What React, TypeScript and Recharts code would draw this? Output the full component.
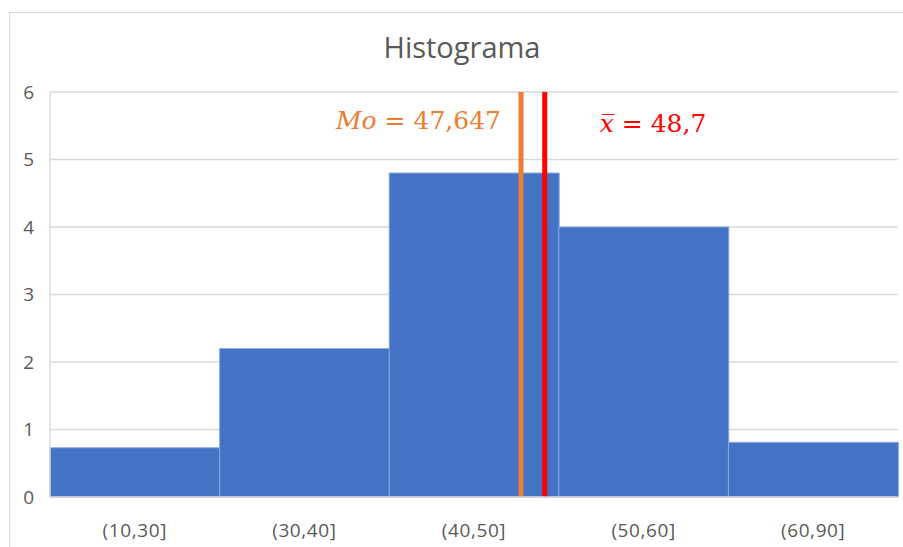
import React from "react";
import {
  ComposedChart,
  Bar,
  XAxis,
  YAxis,
  CartesianGrid,
  ReferenceLine,
} from "recharts";

// ── Data ───────────────────────────────────────────────────────────────────
const bins = ["(10,30]", "(30,40]", "(40,50]", "(50,60]", "(60,90]"];
const heights = [0.73, 2.2, 4.8, 4.0, 0.81];
const yTicks = [0, 1, 2, 3, 4, 5, 6];

// where the lines were drawn, in bin units (0 = left edge, 5 = right edge)
const moPos = 2.777;
const meanPos = 2.917;
const moLabel = "47,647";
const meanLabel = "48,7";

const chartData = bins.map((b, i) => ({ bin: b, h: heights[i], mid: i + 0.5 }));

const GRAY = "#595959";
const GRID = "#d9d9d9";
const MATH = "'DejaVu Serif', 'Liberation Serif', serif";
const SANS = "'Open Sans', sans-serif";

// ── Label renderers ────────────────────────────────────────────────────────
const MoLabel = (props: any) => {
  const { viewBox } = props;
  return (
    <text x={viewBox.x - 20} y={viewBox.y + 37} textAnchor="end" fill="#ED7D31"
      fontFamily={MATH} fontSize={25}>
      <tspan fontStyle="italic">Mo</tspan>
      <tspan> = {moLabel}</tspan>
    </text>
  );
};

const MeanLabel = (props: any) => {
  const { viewBox } = props;
  return (
    <text x={viewBox.x + 55} y={viewBox.y + 40} textAnchor="start" fill="#FF0000"
      fontFamily={MATH} fontSize={25}>
      <tspan fontStyle="italic">x̅</tspan>
      <tspan> = {meanLabel}</tspan>
    </text>
  );
};

export default function App() {
  return (
    <div style={{ position: "relative", width: 903, height: 547, overflow: "hidden", background: "#fff" }}>
      <style>{`body{margin:0}`}</style>
      <div style={{ position: "absolute", left: 9, top: 12, width: 2000, height: 2000, border: `1px solid ${GRID}` }} />
      <div style={{ position: "absolute", left: 0, top: 0 }}>
        <ComposedChart width={903} height={547} data={chartData}
          margin={{ top: 92, right: 5, bottom: 0, left: 10 }} barCategoryGap={0}>
          <text x={462} y={58} textAnchor="middle" fill={GRAY}
            fontFamily={SANS} fontSize={29}>Histograma</text>
          <CartesianGrid vertical={false} stroke={GRID} strokeWidth={1.3} />
          <XAxis dataKey="bin" height={50} tickLine={false} axisLine={{ stroke: GRID, strokeWidth: 1.3 }}
            tick={{ fill: GRAY, fontSize: 19, fontFamily: SANS, letterSpacing: 0.6 }} tickMargin={21} />
          <XAxis xAxisId="pos" dataKey="mid" type="number" domain={[0, 5]} allowDataOverflow hide />
          <YAxis width={40} domain={[0, 6]} ticks={yTicks} tickLine={false}
            axisLine={{ stroke: GRID, strokeWidth: 1.3 }} tickMargin={10}
            tick={{ fill: GRAY, fontSize: 19, fontFamily: SANS }} />
          <Bar dataKey="h" fill="#4472C4" stroke="#8faadc" strokeWidth={1} isAnimationActive={false} />
          <ReferenceLine xAxisId="pos" x={moPos} stroke="#ED7D31" strokeWidth={5}
            label={<MoLabel />} />
          <ReferenceLine xAxisId="pos" x={meanPos} stroke="#FF0000" strokeWidth={5}
            label={<MeanLabel />} />
        </ComposedChart>
      </div>
    </div>
  );
}
